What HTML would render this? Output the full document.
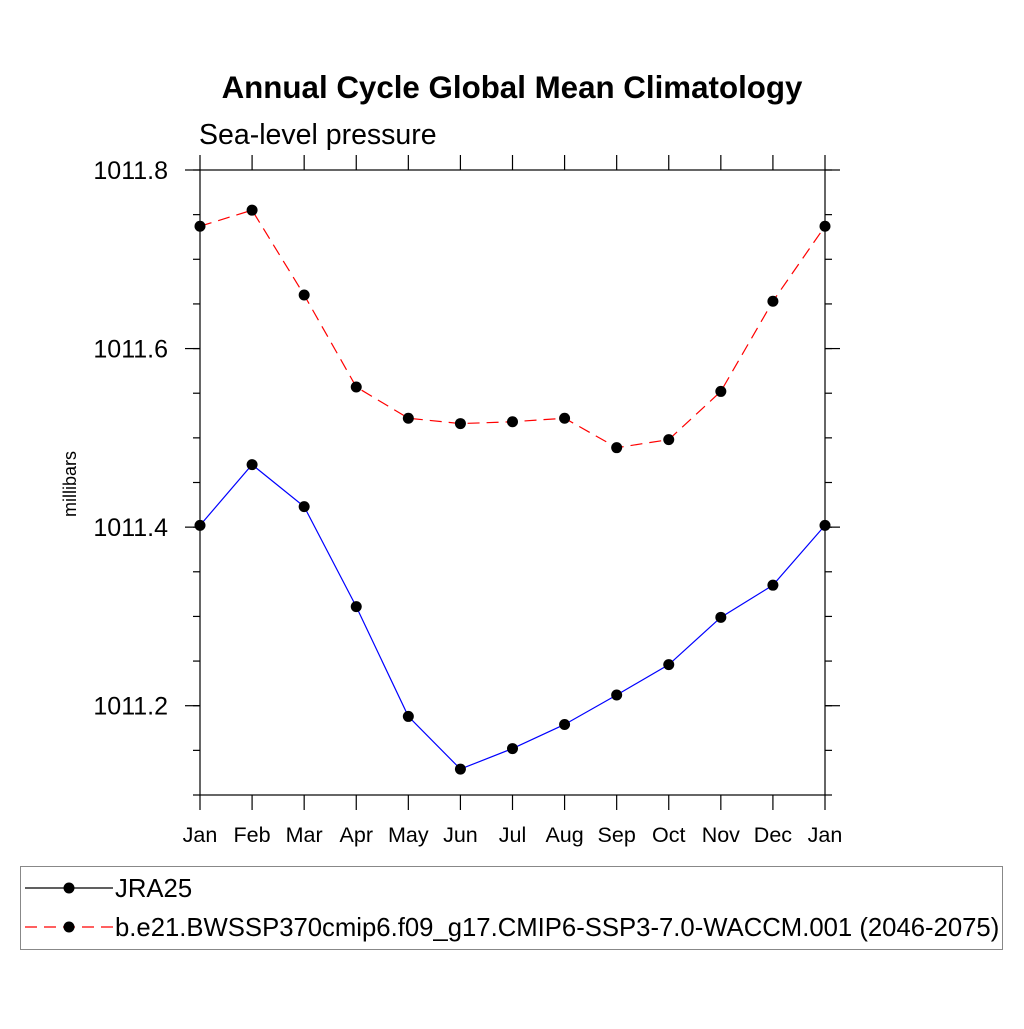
<!DOCTYPE html>
<html><head><meta charset="utf-8"><style>
body{margin:0;background:#fff;}
svg text{font-family:"Liberation Sans",sans-serif;}
</style></head><body>
<svg id="chart" width="1024" height="1024" viewBox="0 0 1024 1024" xmlns="http://www.w3.org/2000/svg">
<rect width="1024" height="1024" fill="#fff"/>
<text x="512" y="98" text-anchor="middle" font-size="31.3" font-weight="bold">Annual Cycle Global Mean Climatology</text>
<text x="199" y="144" font-size="28.5">Sea-level pressure</text>
<text transform="translate(76,484) rotate(-90)" text-anchor="middle" font-size="18">millibars</text>
<g id="axes"></g>
<g id="series"></g>
<rect x="20.5" y="866.5" width="982" height="83" fill="none" stroke="#888" stroke-width="1"/>
<g>
<line x1="25" y1="888" x2="113" y2="888" stroke="#000" stroke-width="1.2"/>
<circle cx="69" cy="888" r="5.5" fill="#000"/>
<text x="115" y="897" font-size="25.7">JRA25</text>
</g>
<g>
<line x1="25" y1="927" x2="113" y2="927" stroke="#f00" stroke-width="1.2" stroke-dasharray="12,7"/>
<circle cx="69" cy="927" r="5.5" fill="#000"/>
<text x="115" y="936" font-size="25.7">b.e21.BWSSP370cmip6.f09_g17.CMIP6-SSP3-7.0-WACCM.001 (2046-2075)</text>
</g>
</svg>
<script>
const months = ["Jan","Feb","Mar","Apr","May","Jun","Jul","Aug","Sep","Oct","Nov","Dec","Jan"];
const jra25 = [1011.402,1011.470,1011.423,1011.311,1011.188,1011.129,1011.152,1011.179,1011.212,1011.246,1011.299,1011.335,1011.402];
const waccm = [1011.737,1011.755,1011.660,1011.557,1011.522,1011.516,1011.518,1011.522,1011.489,1011.498,1011.552,1011.653,1011.737];
const yTicks = [1011.2,1011.4,1011.6,1011.8];
const yMin = 1011.1, yMax = 1011.8;
const X0=200,X1=825,Y0=170,Y1=795;
const NS="http://www.w3.org/2000/svg";
function xs(i){return X0+(X1-X0)*i/(months.length-1);}
function ys(v){return Y1-(v-yMin)/(yMax-yMin)*(Y1-Y0);}
function mk(tag,attrs,parent){const e=document.createElementNS(NS,tag);for(const k in attrs)e.setAttribute(k,attrs[k]);parent.appendChild(e);return e;}
const ax=document.getElementById('axes');
const frame=mk('rect',{x:X0,y:Y0,width:X1-X0,height:Y1-Y0,fill:'none',stroke:'#000','stroke-width':1.2},ax);


months.forEach((m,i)=>{
  const x=xs(i);
  mk('line',{x1:x,y1:Y1,x2:x,y2:Y1+15,stroke:'#000','stroke-width':1.2},ax);
  mk('line',{x1:x,y1:Y0,x2:x,y2:Y0-15,stroke:'#000','stroke-width':1.2},ax);
  const t=mk('text',{x:x,y:842,'text-anchor':'middle','font-size':21.5},ax);
  t.textContent=m;
  
  
});
for(let v=yMin;v<=yMax+1e-9;v+=0.05){
  const y=ys(v);
  mk('line',{x1:X0,y1:y,x2:X0-7,y2:y,stroke:'#000','stroke-width':1.2},ax);
  mk('line',{x1:X1,y1:y,x2:X1+7,y2:y,stroke:'#000','stroke-width':1.2},ax);
}
yTicks.forEach(v=>{
  const y=ys(v);
  mk('line',{x1:X0,y1:y,x2:X0-15,y2:y,stroke:'#000','stroke-width':1.2},ax);
  mk('line',{x1:X1,y1:y,x2:X1+15,y2:y,stroke:'#000','stroke-width':1.2},ax);
  const t=mk('text',{x:168,y:y+9,'text-anchor':'end','font-size':25},ax);
  t.textContent=v.toFixed(1);
  
  
});
const sg=document.getElementById('series');
function draw(vals,color,dash,name){
  const pts=vals.map((v,i)=>xs(i)+','+ys(v)).join(' ');
  const pl=mk('polyline',{points:pts,fill:'none',stroke:color,'stroke-width':1.2,'stroke-dasharray':dash},sg);
  
  
  vals.forEach((v,i)=>{
    const c=mk('circle',{cx:xs(i),cy:ys(v),r:5.5,fill:'#000'},sg);
    
    
  });
}
draw(waccm,'#f00','12,7','waccm');
draw(jra25,'#00f','none','jra25');
</script>
</body></html>
